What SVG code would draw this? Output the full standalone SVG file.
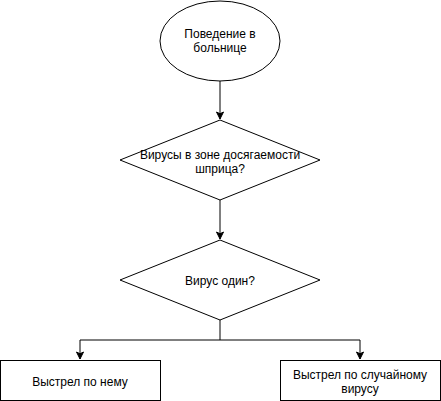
<svg xmlns="http://www.w3.org/2000/svg" width="441" height="401" viewBox="0 0 441 401">
<style>
.s{fill:#fff;stroke:#000;stroke-width:1}
.t{font-family:"Liberation Sans",Arial,sans-serif;font-size:12px;fill:#000;text-anchor:middle}
.c{fill:none;stroke:#000;stroke-width:1}
</style>
<defs>
<marker id="a" markerUnits="userSpaceOnUse" markerWidth="10" markerHeight="10" viewBox="0 0 10 10" refX="8" refY="5" orient="auto">
<path d="M1,1.5 L8,5 L1,8.5 L2.75,5 Z" fill="#000" stroke="#000" stroke-width="1"/>
</marker>
</defs>
<rect width="441" height="401" fill="#fff"/>
<g id="connectors">
<path class="c" d="M220,81 V119" marker-end="url(#a)"/>
<path class="c" d="M220,200 V239" marker-end="url(#a)"/>
<path class="c" d="M220,320 V340 H80 V359" marker-end="url(#a)"/>
<path class="c" d="M220,340 H360 V359" marker-end="url(#a)"/>
</g>
<g id="start">
<ellipse class="s" cx="220" cy="41" rx="60" ry="40"/>
<text class="t" x="220" y="38">Поведение в</text>
<text class="t" x="220" y="52">больнице</text>
</g>
<g id="decision1">
<polygon class="s" points="220,120 320,160 220,200 120,160"/>
<text class="t" x="220" y="159">Вирусы в зоне досягаемости</text>
<text class="t" x="220" y="173">шприца?</text>
</g>
<g id="decision2">
<polygon class="s" points="220,240 320,280 220,320 120,280"/>
<text class="t" x="220" y="285">Вирус один?</text>
</g>
<g id="shootOne">
<rect class="s" x="0.5" y="360.5" width="160" height="40"/>
<text class="t" x="80" y="386">Выстрел по нему</text>
</g>
<g id="shootRandom">
<rect class="s" x="280.5" y="360.5" width="160" height="40"/>
<text class="t" x="360" y="379">Выстрел по случайному</text>
<text class="t" x="360" y="393">вирусу</text>
</g>
</svg>
